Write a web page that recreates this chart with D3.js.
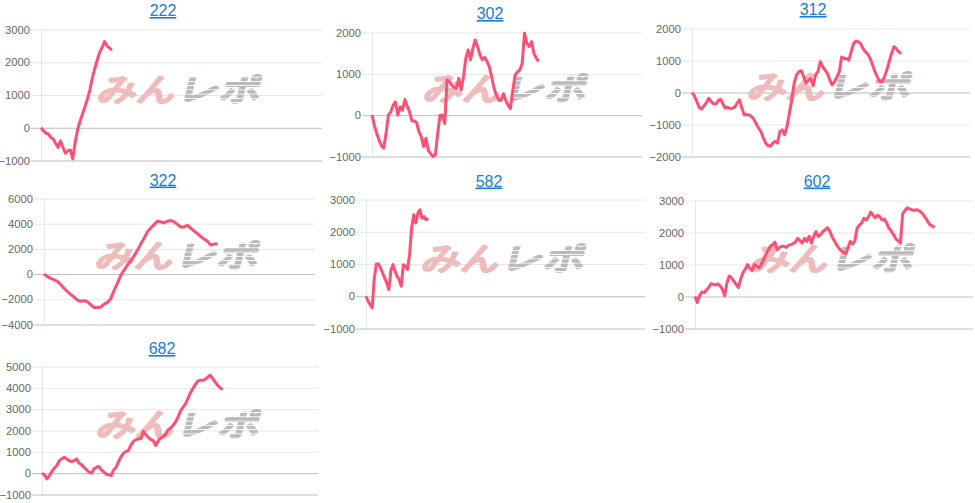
<!DOCTYPE html>
<html>
<head>
<meta charset="utf-8">
<script src="https://cdn.jsdelivr.net/npm/d3@7"></script>
<style>
  body { margin: 0; background: #fff; }
  text { font-family: 'Helvetica Neue', Helvetica, Arial, 'Liberation Sans', sans-serif; }
</style>
</head>
<body>
<div id="visualization"></div>
<script>
/*************************************/
/* Data                              */
/*************************************/

// Machine numbers (chart titles)
const titles = ['222', '302', '312', '322', '582', '602', '682'];

// Coin difference, sampled evenly from game 0 to the last game
const values222 = [0, -90, -170, -190, -290, -340, -480, -600, -400, -600, -780, -700, -680, -950, -450, -50, 200, 420, 640, 870, 1150, 1520, 1800, 2060, 2300, 2450, 2630, 2500, 2440, 2370];
const values302 = [0, -240, -440, -600, -740, -800, -440, 0, 80, 240, 320, 0, 200, 120, 380, 220, 80, -140, -140, -180, -400, -520, -760, -560, -850, -930, -1000, -960, -440, 0, 0, -200, 850, 810, 730, 670, 650, 890, 610, 930, 1380, 1580, 1340, 1620, 1820, 1660, 1460, 1340, 1400, 1300, 1170, 930, 650, 490, 360, 360, 520, 360, 240, 160, 600, 970, 1050, 1090, 1250, 1980, 1740, 1660, 1780, 1500, 1380, 1300];
const values312 = [0, -100, -280, -460, -520, -420, -330, -180, -280, -350, -360, -260, -210, -350, -490, -460, -500, -490, -460, -330, -230, -490, -700, -690, -700, -750, -830, -980, -1110, -1220, -1420, -1580, -1660, -1680, -1580, -1530, -1580, -1220, -1170, -1320, -1060, -640, -230, 290, 550, 650, 680, 490, 290, 390, 440, 210, 550, 650, 960, 810, 700, 600, 390, 240, 340, 490, 650, 1110, 1060, 1060, 1010, 1270, 1530, 1610, 1580, 1530, 1370, 1270, 1200, 1060, 860, 650, 490, 340, 340, 490, 700, 960, 1220, 1430, 1370, 1270, 1220];
const values322 = [0, -200, -340, -450, -580, -820, -1120, -1380, -1620, -1830, -2070, -2150, -2120, -2180, -2420, -2660, -2650, -2620, -2390, -2250, -1950, -1300, -740, -120, 320, 720, 1060, 1430, 1900, 2380, 2830, 3350, 3660, 3930, 4200, 4150, 4060, 4200, 4260, 4150, 3950, 3740, 3740, 3880, 3640, 3420, 3220, 2980, 2780, 2600, 2310, 2380, 2380];
const values582 = [0, -150, -260, -360, 570, 1000, 1000, 880, 720, 570, 410, 210, 800, 980, 780, 620, 520, 310, 980, 930, 830, 1290, 2110, 2530, 2270, 2580, 2680, 2420, 2470, 2370, 2420];
const values602 = [0, -190, 20, 140, 120, 200, 280, 400, 380, 360, 400, 330, 230, 20, 430, 640, 590, 480, 380, 280, 540, 740, 850, 1000, 880, 810, 1000, 950, 900, 1000, 1150, 1310, 1430, 1570, 1620, 1700, 1460, 1530, 1570, 1570, 1530, 1600, 1620, 1650, 1700, 1820, 1740, 1670, 1820, 1720, 1880, 1670, 1880, 2030, 1880, 1930, 2030, 2080, 2150, 2050, 1880, 1740, 1620, 1510, 1430, 1390, 1330, 1510, 1720, 1640, 1720, 2130, 2230, 2290, 2440, 2390, 2490, 2640, 2540, 2460, 2540, 2490, 2390, 2420, 2290, 2130, 2050, 1930, 1800, 1740, 1670, 2590, 2690, 2770, 2740, 2710, 2690, 2710, 2690, 2640, 2560, 2460, 2340, 2240, 2210, 2150];
const values682 = [0, -80, -270, -110, 80, 240, 360, 580, 680, 750, 670, 580, 550, 580, 670, 470, 390, 270, 160, 50, 0, 200, 280, 310, 160, 50, -50, -80, -110, 160, 280, 550, 780, 940, 1020, 1070, 1330, 1490, 1570, 1610, 1610, 1960, 1800, 1680, 1570, 1520, 1300, 1520, 1650, 1720, 1830, 2040, 2120, 2240, 2400, 2620, 2900, 3090, 3240, 3500, 3760, 3970, 4150, 4310, 4360, 4360, 4390, 4500, 4590, 4440, 4280, 4120, 4000, 3920];

const seriesValues = [values222, values302, values312, values322, values582, values602, values682];

// Last game played for each machine, and the x axis span
const lastGames = [2520, 6170, 7520, 6400, 2230, 8620, 6540];
const gameMax = 10000;

// Y tick values per chart
const yTicks = [
  [-1000, 0, 1000, 2000, 3000],
  [-1000, 0, 1000, 2000],
  [-2000, -1000, 0, 1000, 2000],
  [-4000, -2000, 0, 2000, 4000, 6000],
  [-1000, 0, 1000, 2000, 3000],
  [-1000, 0, 1000, 2000, 3000],
  [-1000, 0, 1000, 2000, 3000, 4000, 5000]
];


/*************************************/
/* Layout                            */
/*************************************/

const width = 975;
const height = 503;

// Plot area of each small chart (pixels)
const boxes = [
  { left: 41,  right: 322, top: 29.5,  bottom: 160.5, titleX: 163, titleY: 16 },
  { left: 372, right: 642, top: 32.5,  bottom: 156.5, titleX: 490, titleY: 19 },
  { left: 692, right: 970, top: 28.5,  bottom: 156.5, titleX: 813, titleY: 15 },
  { left: 44,  right: 315, top: 198.5, bottom: 324.5, titleX: 163, titleY: 185.5 },
  { left: 366, right: 645, top: 199.5, bottom: 328.5, titleX: 489, titleY: 186.5 },
  { left: 695, right: 973, top: 200.5, bottom: 328.5, titleX: 817, titleY: 186.5 },
  { left: 42,  right: 318, top: 366.5, bottom: 494.5, titleX: 162, titleY: 354 }
];


/*************************************/
/* Create visualization              */
/*************************************/

const viz = d3.select('#visualization')
  .append('svg')
  .attr('viewBox', [0, 0, width, height])
  .attr('width', width)
  .attr('height', height);

// Striped fill for the grey half of the watermark
viz.append('defs')
  .append('pattern')
    .attr('id', 'stripes')
    .attr('patternUnits', 'userSpaceOnUse')
    .attr('width', 8)
    .attr('height', 5)
    .call(p => p.append('rect')
      .attr('width', 8)
      .attr('height', 5)
      .attr('fill', '#bababa'))
    .call(p => p.append('rect')
      .attr('y', 4)
      .attr('width', 8)
      .attr('height', 1)
      .attr('fill', '#ffffff'));

const drawChart = (i) => {
  const box = boxes[i];
  const values = seriesValues[i];
  const ticks = yTicks[i];

  const x = d3.scaleLinear()
    .domain([0, gameMax])
    .range([box.left, box.right]);

  const y = d3.scaleLinear()
    .domain(d3.extent(ticks))
    .range([box.bottom, box.top]);

  const g = viz.append('g').attr('class', 'chart');

  // Title
  g.append('text')
    .attr('x', box.titleX)
    .attr('y', box.titleY)
    .attr('text-anchor', 'middle')
    .attr('font-size', 16)
    .attr('fill', '#1a7bd8')
    .attr('text-decoration', 'underline')
    .text(titles[i]);

  // Left border
  g.append('line')
    .attr('x1', box.left + 0.5)
    .attr('x2', box.left + 0.5)
    .attr('y1', box.top)
    .attr('y2', box.bottom)
    .attr('stroke', '#e6e6e6');

  // Y axis with grid (tick marks stick out 10px to the left)
  const yAxis = d3.axisLeft(y)
    .tickValues(ticks)
    .tickSize(-(box.right - box.left + 10))
    .tickPadding(1)
    .tickFormat(d3.format('d'));

  g.append('g')
    .attr('transform', `translate(${box.left - 10},0)`)
    .call(yAxis)
    .call(ax => ax.select('.domain').remove())
    .call(ax => ax.selectAll('.tick line')
      .attr('stroke', d => (d === 0 || d === ticks[0]) ? '#bdbdbd' : '#e6e6e6'))
    .call(ax => ax.selectAll('.tick text')
      .attr('font-size', 11.2)
      .attr('fill', '#666')
      .attr('font-family', "'Helvetica Neue', Helvetica, Arial, 'Liberation Sans', sans-serif"));

  // Watermark
  const cx = (box.left + box.right) / 2;
  const cy = (box.top + box.bottom) / 2 - 9;
  const mark = g.append('g')
    .attr('transform', `translate(${cx},${cy}) skewX(-14) scale(1,0.85)`)
    .attr('font-family', "'Noto Sans CJK JP', sans-serif")
    .attr('font-weight', 'bold')
    .attr('font-size', 36)
    .attr('stroke-width', 2.2)
    .attr('stroke-linejoin', 'round');

  mark.append('text')
    .attr('x', -80)
    .attr('y', 15)
    .attr('textLength', 78)
    .attr('lengthAdjust', 'spacingAndGlyphs')
    .attr('fill', '#eebcbd')
    .attr('stroke', '#eebcbd')
    .text('みん');

  mark.append('text')
    .attr('x', 2)
    .attr('y', 15)
    .attr('textLength', 80)
    .attr('lengthAdjust', 'spacingAndGlyphs')
    .attr('fill', 'url(#stripes)')
    .attr('stroke', 'url(#stripes)')
    .text('レポ');

  // Line
  const step = lastGames[i] / (values.length - 1);
  const line = d3.line()
    .x((d, k) => x(k * step))
    .y(d => y(d));

  g.append('path')
    .datum(values)
    .attr('fill', 'none')
    .attr('stroke', '#ff4f72')
    .attr('stroke-width', 3)
    .attr('stroke-linejoin', 'round')
    .attr('d', line);
};

titles.forEach((t, i) => drawChart(i));
</script>
</body>
</html>
